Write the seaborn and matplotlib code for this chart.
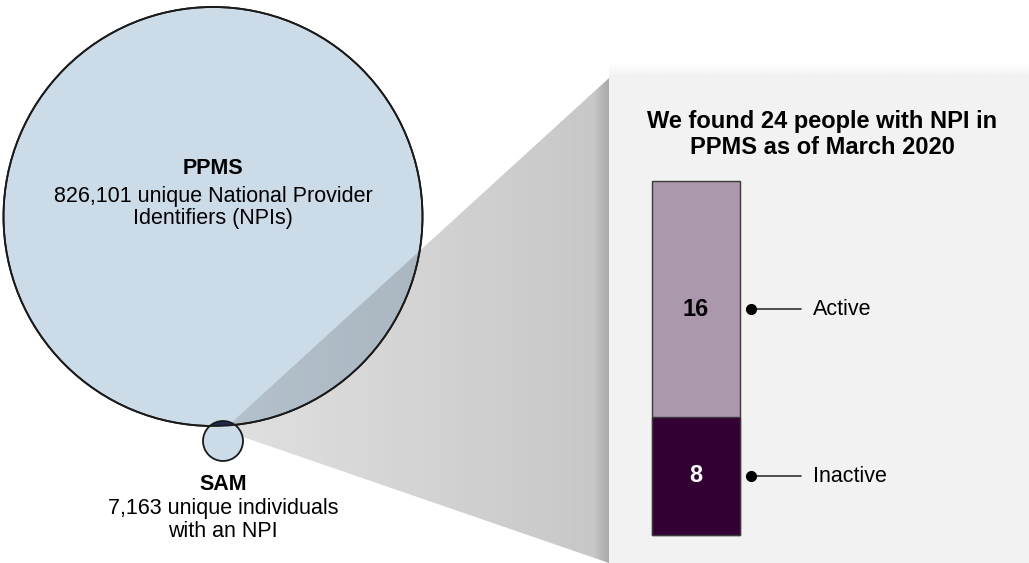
import numpy as np
import matplotlib
matplotlib.use("Agg")
import matplotlib.pyplot as plt
import seaborn as sns
from matplotlib.patches import Circle, Polygon, Rectangle

# data
bar_category = ["NPI in PPMS"]
status_labels = ["Active", "Inactive"]
status_counts = [16, 8]
status_colors = ["#ab98ad", "#330033"]
ppms_label = ["PPMS", "826,101 unique National Provider", "Identifiers (NPIs)"]
sam_label = ["SAM", "7,163 unique individuals", "with an NPI"]
title = "We found 24 people with NPI in\nPPMS as of March 2020"

sns.set_style("white")
plt.rcParams["font.family"] = ["Liberation Sans", "DejaVu Sans"]
plt.rcParams["text.color"] = "black"

W, H = 1029, 563
fig = plt.figure(figsize=(W / 100, H / 100), dpi=100)
fig.patch.set_facecolor("white")

# full-figure canvas in pixel units for the diagram part
ax = fig.add_axes([0, 0, 1, 1])
ax.axis("off")

blue = "#cbdbe8"
edge = "#1a1a1a"
big_c, big_r = (213, 216.5), 209.5
sm_c, sm_r = (223, 441), 20

ax.add_patch(Circle(big_c, big_r, fc=blue, ec="none", zorder=1))

# projection beam from the small circle to the panel
beam = Polygon([sm_c, (230, 424), (609, 78), (609, 563), (243, 437)],
               closed=True, fc="none", ec="none", zorder=2)
ax.add_patch(beam)
xs = np.linspace(228, 609, 400)
alpha = np.interp(xs, [228, 595, 600, 609], [0.15, 0.27, 0.33, 0.42])
grad = np.zeros((1, len(xs), 4))
grad[..., :3] = 0.19
grad[..., 3] = alpha
im = ax.imshow(grad, extent=[228, 609, 563, 78], aspect="auto", zorder=2,
               interpolation="bilinear")
im.set_clip_path(beam)

ax.add_patch(Circle(big_c, big_r, fc="none", ec=edge, lw=1.3, zorder=3))

# small circle + overlap lens
ax.add_patch(Circle(sm_c, sm_r, fc=blue, ec="none", zorder=4))
lens = Circle(sm_c, sm_r, fc="#1c2a4d", ec="none", zorder=5)
ax.add_patch(lens)
clip_big = Circle(big_c, big_r, transform=ax.transData)
lens.set_clip_path(clip_big)
ax.add_patch(Circle(sm_c, sm_r, fc="none", ec=edge, lw=1.3, zorder=6))
ax.add_patch(Circle(big_c, big_r, fc="none", ec=edge, lw=1.3, zorder=6))

# panel with a soft shadow on top
sh = np.zeros((16, 1, 4))
sh[..., :3] = 0.4
sh[:, 0, 3] = np.linspace(0.0, 0.1, 16) ** 1.5 / 0.1 ** 0.5
ax.imshow(sh, extent=[609, W, 77, 61], aspect="auto", zorder=1.5,
          interpolation="bilinear")
ax.add_patch(Rectangle((609, 77), W - 609, H - 77, fc="#f2f2f2", ec="none", zorder=2))
ax.set_xlim(0, W)
ax.set_ylim(H, 0)

# circle labels
ax.text(213, 169, ppms_label[0], ha="center", va="center", fontsize=15.5,
        fontweight="bold", zorder=7)
ax.text(213, 207.5, "\n".join(ppms_label[1:]), ha="center", va="center",
        fontsize=15.5, linespacing=1.1, zorder=7)
ax.text(223, 485, sam_label[0], ha="center", va="center", fontsize=15.5,
        fontweight="bold", zorder=7)
ax.text(223, 520, "\n".join(sam_label[1:]), ha="center", va="center",
        fontsize=15.5, linespacing=1.08, zorder=7)

fig.text(822 / W, 1 - 134.5 / H, title, ha="center", va="center", fontsize=17,
         fontweight="bold", linespacing=1.22)

# stacked bar
bax = fig.add_axes([652 / W, (H - 535) / H, 88 / W, 354 / H])
total = sum(status_counts)
sns.barplot(x=bar_category, y=[total], color=status_colors[0], saturation=1,
            width=1, edgecolor="#3a3a3a", linewidth=1, ax=bax)
sns.barplot(x=bar_category, y=[status_counts[1]], color=status_colors[1],
            saturation=1, width=1, edgecolor="#3a3a3a", linewidth=1, ax=bax)
for p in bax.patches:
    p.set_clip_on(False)
bax.set_xlim(-0.5, 0.5)
bax.set_ylim(0, total)
bax.axis("off")

bottoms = [status_counts[1], 0]
text_colors = ["black", "white"]
for lab, cnt, b, tc in zip(status_labels, status_counts, bottoms, text_colors):
    ymid = b + cnt / 2
    if lab == "Active":
        ymid -= 0.7
    bax.text(0, ymid, str(cnt), ha="center", va="center", fontsize=17,
             fontweight="bold", color=tc)
    bax.plot([0.62, 1.19], [ymid, ymid], color="#333333", lw=1.2, clip_on=False)
    bax.plot([0.62], [ymid], "o", color="black", ms=7, clip_on=False)
    bax.text(1.33, ymid, lab, ha="left", va="center", fontsize=15.5, color="black")

fig.savefig("out.png", dpi=100)
